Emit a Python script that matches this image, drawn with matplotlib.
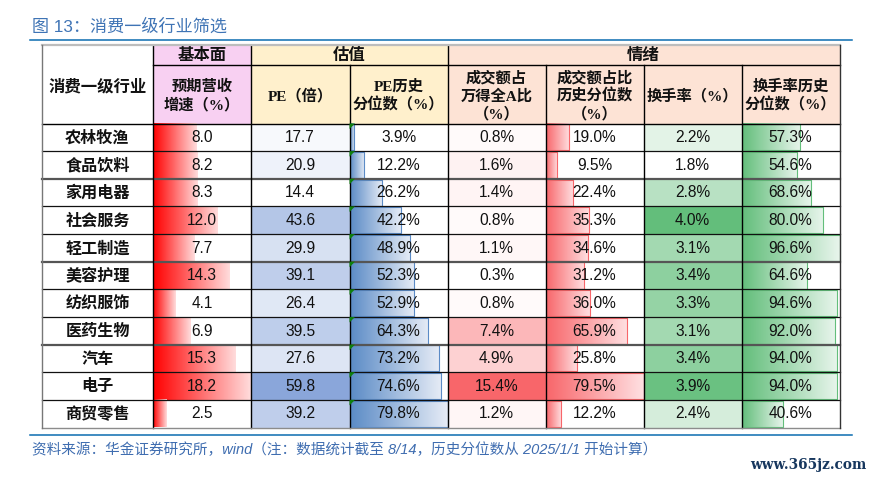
import numpy as np
import matplotlib
matplotlib.use('Agg')
import matplotlib.pyplot as plt
from matplotlib.colors import LinearSegmentedColormap
from matplotlib.patches import Polygon

CJK = ['Noto Sans CJK SC', 'DejaVu Sans']
NUM = ['Liberation Sans', 'Noto Sans CJK SC']
HEAD = ['Liberation Serif', 'Noto Sans CJK SC']
plt.rcParams['font.family'] = CJK

industries = ['农林牧渔', '食品饮料', '家用电器', '社会服务', '轻工制造', '美容护理',
              '纺织服饰', '医药生物', '汽车', '电子', '商贸零售']
rev_growth = [8.0, 8.2, 8.3, 12.0, 7.7, 14.3, 4.1, 6.9, 15.3, 18.2, 2.5]
pe = [17.7, 20.9, 14.4, 43.6, 29.9, 39.1, 26.4, 39.5, 27.6, 59.8, 39.2]
pe_pct = [3.9, 12.2, 26.2, 42.2, 48.9, 52.3, 52.9, 64.3, 73.2, 74.6, 79.8]
amt_share = [0.8, 1.6, 1.4, 0.8, 1.1, 0.3, 0.8, 7.4, 4.9, 15.4, 1.2]
amt_pct = [19.0, 9.5, 22.4, 35.3, 34.6, 31.2, 36.0, 65.9, 25.8, 79.5, 12.2]
turnover = [2.2, 1.8, 2.8, 4.0, 3.1, 3.4, 3.3, 3.1, 3.4, 3.9, 2.4]
turn_pct = [57.3, 54.6, 68.6, 80.0, 96.6, 64.6, 94.6, 92.0, 94.0, 94.0, 40.6]

groups = ['基本面', '估值', '情绪']
col_heads = ['预期营收\n增速（%）', 'PE（倍）', 'PE历史\n分位数（%）', '成交额占\n万得全A比\n（%）',
             '成交额占比\n历史分位数\n（%）', '换手率（%）', '换手率历史\n分位数（%）']

title = '图 13：消费一级行业筛选'
source = '资料来源：华金证券研究所，wind（注：数据统计截至 8/14，历史分位数从 2025/1/1 开始计算）'

PINK, YELLOW, PEACH = '#F8D0F2', '#FFF0CC', '#FDE3D5'
BLUE = '#5B8BC6'
RED_PCT = '#F8666A'
GREEN = '#63BE7B'
RULE = '#0B6CB0'

# layout in reference pixels
x_edges = [42, 153, 251, 349.5, 447.5, 545.5, 643.5, 741.5, 839.5]
y_top, y_group, y_head, y_bot = 45, 64.5, 123.5, 427.5
row_h = (y_bot - y_head) / len(industries)
heavy_rows = [2, 5, 8]

fig = plt.figure(figsize=(8.74, 4.8), dpi=100)
ax = fig.add_axes([0, 0, 1, 1])
ax.set_xlim(0, 874)
ax.set_ylim(480, 0)
ax.axis('off')


def to_white(color, top='white'):
    return LinearSegmentedColormap.from_list('g', [color, top])


def fmt(col, v):
    return '%.1f' % v if col in (1, 2) else '%.1f%%' % v


def heat_col(col, values, color):
    cmap = to_white(color)
    lo, hi = min(values), max(values)
    for i, v in enumerate(values):
        y0 = y_head + i * row_h
        ax.fill_between([x_edges[col], x_edges[col + 1]], y0, y0 + row_h,
                        color=cmap(1 - (v - lo) / (hi - lo)), lw=0, zorder=1)
        ax.text((x_edges[col] + x_edges[col + 1]) / 2, y0 + row_h / 2 + 0.3, fmt(col, v),
                ha='center', va='center', fontsize=FS, family=NUM, color='#111111', zorder=5)


def bar_col(col, values, color, border=True, end='white'):
    cmap = to_white(color, end)
    x0 = x_edges[col]
    w = x_edges[col + 1] - x0
    hi = max(values)
    grad = np.linspace(0, 1, 128).reshape(1, -1)
    for i, v in enumerate(values):
        y0 = y_head + i * row_h
        bw = v / hi * w
        ax.imshow(grad, extent=[x0, x0 + bw, y0 + row_h, y0], cmap=cmap, aspect='auto', zorder=1,
                  interpolation='bilinear')
        if border:
            ax.plot([x0, x0 + bw, x0 + bw, x0], [y0 + 0.8, y0 + 0.8, y0 + row_h - 0.8, y0 + row_h - 0.8],
                    color=color, lw=0.8, zorder=2)
        ax.text(x0 + w / 2, y0 + row_h / 2 + 0.3, fmt(col, v), ha='center', va='center',
                fontsize=FS, family=NUM, color='#111111', zorder=5)


FS = 11.2

# header fills
ax.fill_between([x_edges[1], x_edges[2]], y_top, y_head, color=PINK, lw=0, zorder=0)
ax.fill_between([x_edges[2], x_edges[4]], y_top, y_head, color=YELLOW, lw=0, zorder=0)
ax.fill_between([x_edges[4], x_edges[8]], y_top, y_head, color=PEACH, lw=0, zorder=0)

bar_col(1, rev_growth, '#FF0000', border=False, end='#FFDCDC')
heat_col(2, pe, '#8AA6DA')
bar_col(3, pe_pct, BLUE, end='#E6ECF6')
heat_col(4, amt_share, RED_PCT)
bar_col(5, amt_pct, RED_PCT, end='#FFE0E2')
heat_col(6, turnover, GREEN)
bar_col(7, turn_pct, GREEN, end='#E8F5EC')

# excel comment flags in the PE percentile column
for i in range(len(industries)):
    y0 = y_head + i * row_h
    ax.add_patch(Polygon([(x_edges[3], y0), (x_edges[3] + 5.5, y0), (x_edges[3], y0 + 5.5)],
                         color='#0E7F0E', lw=0, zorder=6))
    ax.text((x_edges[0] + x_edges[1]) / 2, y0 + row_h / 2 + 0.3, industries[i], ha='center', va='center',
            fontsize=11.6, fontweight='bold', color='#111111', zorder=5)

# header text
ax.text((x_edges[0] + x_edges[1]) / 2, 86, '消费一级行业', ha='center', va='center',
        fontsize=11.8, fontweight='bold', color='#111111')
group_spans = [(1, 2), (2, 4), (4, 8)]
for g, (a, b) in zip(groups, group_spans):
    ax.text((x_edges[a] + x_edges[b]) / 2, 55, g, ha='center', va='center',
            fontsize=11.8, fontweight='bold', color='#111111')
for i, h in enumerate(col_heads):
    ax.text((x_edges[i + 1] + x_edges[i + 2]) / 2, 96, h, ha='center', va='center', family=HEAD,
            fontsize=11, fontweight='bold', linespacing=1.28, color='#111111')

# grid
for i in range(1, len(industries)):
    y = y_head + i * row_h
    heavy = i in heavy_rows
    ax.plot([x_edges[0], x_edges[-1]], [y, y], color='#555555' if heavy else '#111111',
            lw=1.6 if heavy else 0.9, zorder=4)
ax.plot([x_edges[0], x_edges[-1]], [y_head, y_head], color='black', lw=1.0, zorder=4)
ax.plot([x_edges[1], x_edges[-1]], [y_group, y_group], color='black', lw=1.0, zorder=4)
for k, x in enumerate(x_edges[1:-1], start=1):
    top = y_top if k in (1, 2, 4) else y_group
    ax.plot([x, x], [top, y_bot], color='black', lw=1.0, zorder=4)
ax.plot([x_edges[0], x_edges[-1]], [y_top, y_top], color='#BDBDBD', lw=1.6, zorder=4)
ax.plot([x_edges[0], x_edges[-1]], [y_bot, y_bot], color='#8C8C8C', lw=1.0, zorder=4)
ax.plot([x_edges[0], x_edges[0]], [y_top, y_bot], color='#777777', lw=1.0, zorder=4)
ax.plot([x_edges[-1], x_edges[-1]], [y_top, y_bot], color='#333333', lw=1.0, zorder=4)

# title, rules, footer
ax.text(32, 26.5, title, ha='left', va='center', fontsize=12.3, family=NUM, color='#3F74B5')
ax.plot([30, 852], [39.5, 39.5], color=RULE, lw=1.1)
ax.plot([30, 852], [434.5, 434.5], color=RULE, lw=1.1)
ax.text(32, 450, source, ha='left', va='center', fontsize=10.5, family=NUM, style='italic', color='#3F6DB0')
ax.text(867, 464.5, 'www.365jz.com', ha='right', va='center', fontsize=9.8, family='DejaVu Serif',
        fontweight='bold', color='#17375E')

ax.set_xlim(0, 874)
ax.set_ylim(480, 0)
fig.savefig('out.png', dpi=100)
